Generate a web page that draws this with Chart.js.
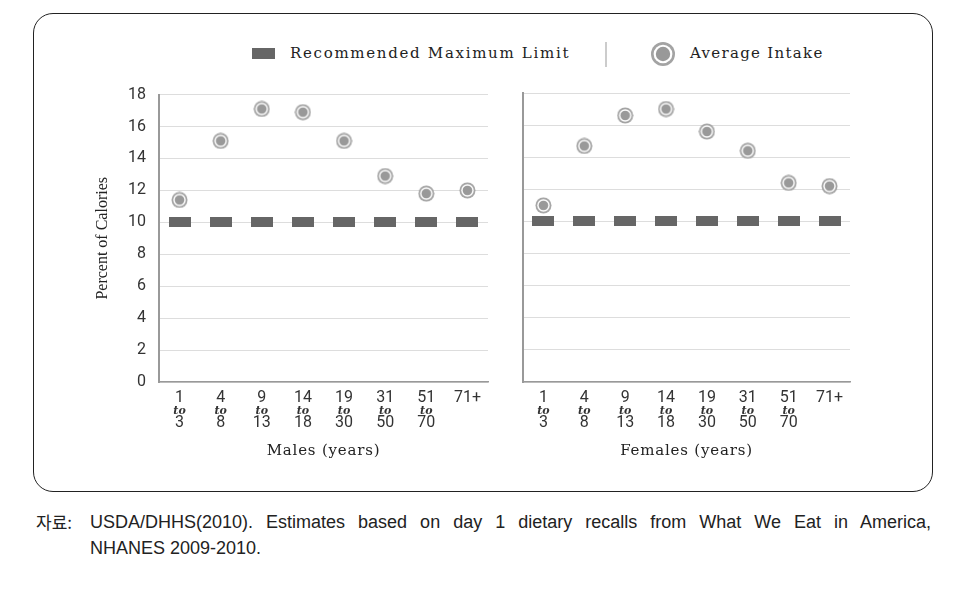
<!DOCTYPE html>
<html>
<head>
<meta charset="utf-8">
<script src="https://cdn.jsdelivr.net/npm/chart.js@4"></script>
<style>
  body { margin: 0; background: #fff; width: 976px; height: 616px; position: relative; overflow: hidden; }
  .frame { position: absolute; left: 33px; top: 13px; width: 898px; height: 477px; border: 1.5px solid #222; border-radius: 20px; }
  .legend { position: absolute; top: 40px; left: 0; width: 976px; height: 28px; font-family: "DejaVu Serif", serif; font-size: 15px; color: #222; }
  .legend .sq { position: absolute; left: 252px; top: 8px; width: 23px; height: 11px; background: #666; }
  .legend .t1 { position: absolute; left: 290px; top: 4px; letter-spacing: 1.7px; }
  .legend .sep { position: absolute; left: 605px; top: 2px; width: 2px; height: 25px; background: #ccc; }
  .legend .dot { position: absolute; left: 650px; top: 1px; }
  .legend .t2 { position: absolute; left: 690px; top: 4px; letter-spacing: 1.3px; }
  canvas { position: absolute; }
  #c1 { left: 80px; top: 72px; }
  #c2 { left: 500px; top: 80px; }
  .caption { position: absolute; left: 36px; top: 509px; width: 896px; font-family: "Liberation Sans", sans-serif; font-size: 18px; color: #222; display: flex; }
  .caption .lab { width: 54px; font-family: "Noto Sans CJK KR", sans-serif; font-size: 17px; line-height: 26px; }
  .caption .body { width: 841px; }
  .caption .l1 { text-align: justify; text-align-last: justify; line-height: 26px; }
  .caption .l2 { line-height: 26px; }
</style>
</head>
<body>
<div class="frame"></div>
<div class="legend">
  <div class="sq"></div><div class="t1">Recommended Maximum Limit</div>
  <div class="sep"></div>
  <canvas class="dot" id="ld" width="26" height="26"></canvas>
  <div class="t2">Average Intake</div>
</div>
<canvas id="c1" width="420" height="398"></canvas>
<canvas id="c2" width="362" height="390"></canvas>
<div class="caption">
  <div class="lab">자료:</div>
  <div class="body">
    <div class="l1">USDA/DHHS(2010). Estimates based on day 1 dietary recalls from What We Eat in America,</div>
    <div class="l2">NHANES 2009-2010.</div>
  </div>
</div>
<script>
// age groups
var ageFrom = ['1', '4', '9', '14', '19', '31', '51', '71+'];
var ageTo = ['3', '8', '13', '18', '30', '50', '70', ''];
var maxLimit = [10, 10, 10, 10, 10, 10, 10, 10];
var malesIntake = [11.4, 15.1, 17.1, 16.9, 15.1, 12.9, 11.8, 12.0];
var femalesIntake = [11.0, 14.7, 16.6, 17.0, 15.6, 14.4, 12.4, 12.2];
var yTicks = [0, 2, 4, 6, 8, 10, 12, 14, 16, 18];

function makeRect() {
    var c = document.createElement('canvas');
    c.width = 22; c.height = 10;
    var g = c.getContext('2d');
    g.fillStyle = '#666';
    g.fillRect(0, 0, 22, 10);
    return c;
}
function drawRing(g, cx, cy, r) {
    g.fillStyle = '#a3a3a3';
    g.beginPath(); g.arc(cx, cy, r, 0, Math.PI * 2); g.fill();
    g.fillStyle = '#fff';
    g.beginPath(); g.arc(cx, cy, r * 0.78, 0, Math.PI * 2); g.fill();
    g.fillStyle = '#999';
    g.beginPath(); g.arc(cx, cy, r * 0.6, 0, Math.PI * 2); g.fill();
}
function makeDot() {
    var c = document.createElement('canvas');
    c.width = 17; c.height = 17;
    drawRing(c.getContext('2d'), 8.5, 8.5, 8);
    return c;
}
drawRing(document.getElementById('ld').getContext('2d'), 13, 13, 12);

var rectImg = makeRect();
var dotImg = makeDot();

var labelsPlugin = {
    id: 'ageLabels',
    afterDraw: function (chart) {
        var ctx = chart.ctx;
        var xs = chart.scales.x;
        var area = chart.chartArea;
        ctx.save();
        ctx.textAlign = 'center';
        ctx.textBaseline = 'middle';
        ctx.fillStyle = '#333';
        for (var i = 0; i < ageFrom.length; i++) {
            var x = xs.getPixelForValue(i);
            ctx.font = '16px Roboto';
            ctx.fillText(ageFrom[i], x, xs.top + 16);
            if (ageTo[i]) {
                ctx.fillText(ageTo[i], x, xs.top + 41);
                ctx.font = 'italic bold 11px "DejaVu Serif"';
                ctx.fillText('to', x, xs.top + 29);
            }
        }
        ctx.fillStyle = '#222';
        ctx.font = '15px "DejaVu Serif"';
        ctx.letterSpacing = '0.8px';
        ctx.fillText(chart.options.plugins.xTitle, (area.left + area.right) / 2, xs.top + 69);
        ctx.letterSpacing = '0px';
        if (chart.options.plugins.yTitle) {
            ctx.translate(area.left - 56, (area.top + area.bottom) / 2);
            ctx.rotate(-Math.PI / 2);
            ctx.font = '16px "Liberation Serif"';
            ctx.fillText(chart.options.plugins.yTitle, 0, 0);
        }
        ctx.restore();
    }
};

function makeChart(id, intake, xTitle, yTitle, axisWidth) {
    return new Chart(document.getElementById(id), {
        type: 'line',
        data: {
            labels: ageFrom,
            datasets: [{
                label: 'Average Intake',
                data: intake,
                showLine: false,
                pointStyle: dotImg,
                order: 0
            }, {
                label: 'Recommended Maximum Limit',
                data: maxLimit,
                showLine: false,
                pointStyle: rectImg,
                order: 1
            }]
        },
        options: {
            responsive: false,
            animation: false,
            layout: { padding: { top: 13, right: 12, left: 0, bottom: 0 } },
            plugins: { legend: { display: false }, tooltip: { enabled: false }, xTitle: xTitle, yTitle: yTitle },
            scales: {
                x: {
                    offset: true,
                    grid: { display: false },
                    border: { display: true, color: '#999', width: 1.5 },
                    ticks: { display: false },
                    afterFit: function (s) { s.height = 88; }
                },
                y: {
                    min: 0,
                    max: 18,
                    afterBuildTicks: function (s) { s.ticks = yTicks.map(function (v) { return { value: v }; }); },
                    grid: { color: '#ddd', drawTicks: false },
                    border: { display: true, color: '#999', width: 2 },
                    ticks: { display: !!yTitle, padding: 13, color: '#333', font: { family: 'Roboto', size: 16 } },
                    afterFit: function (s) { s.width = axisWidth; }
                }
            }
        },
        plugins: [labelsPlugin]
    });
}

makeChart('c1', malesIntake, 'Males (years)', 'Percent of Calories', 79);
makeChart('c2', femalesIntake, 'Females (years)', '', 23);
</script>
</body>
</html>
